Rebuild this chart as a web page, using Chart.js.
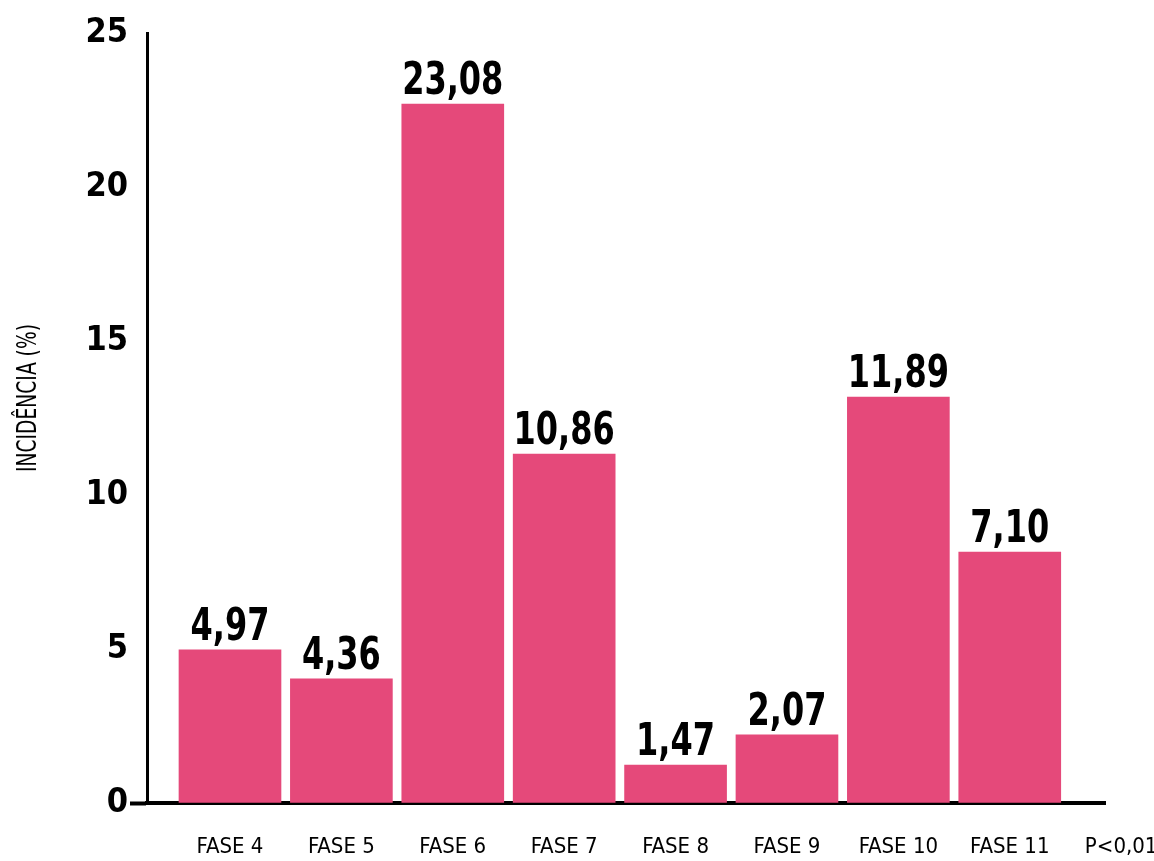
<!DOCTYPE html>
<html>
<head>
<meta charset="utf-8">
<script src="https://cdn.jsdelivr.net/npm/chart.js@4.4.1/dist/chart.umd.min.js"></script>
<style>
  html, body { margin: 0; padding: 0; background: #fff; }
  #wrap { width: 1154px; height: 861px; position: relative; }
</style>
</head>
<body>
<div id="wrap"><canvas id="c"></canvas></div>
<script>
// ---- data ----
const categories = ['FASE 4', 'FASE 5', 'FASE 6', 'FASE 7', 'FASE 8', 'FASE 9', 'FASE 10', 'FASE 11'];
const extraTickLabel = 'P<0,01';
const barHeights = [4.97, 4.03, 22.69, 11.33, 1.23, 2.21, 13.18, 8.15];
const valueLabels = ['4,97', '4,36', '23,08', '10,86', '1,47', '2,07', '11,89', '7,10'];
const yTicks = [0, 5, 10, 15, 20, 25];
const yTitle = 'INCIDÊNCIA (%)';

const tickLabels = categories.concat([extraTickLabel]);
const FONT = "'DejaVu Sans Condensed', 'Liberation Sans Narrow', 'DejaVu Sans', sans-serif";
const PINK = '#E5497A';

const valueLabelPlugin = {
  id: 'valueLabels',
  afterDatasetsDraw(chart) {
    const ctx = chart.ctx;
    const meta = chart.getDatasetMeta(0);
    const sx = 0.79;
    ctx.save();
    ctx.fillStyle = '#000';
    ctx.font = 'bold 45px ' + FONT;
    ctx.textAlign = 'center';
    ctx.textBaseline = 'alphabetic';
    meta.data.forEach((bar, i) => {
      ctx.save();
      ctx.translate(bar.x, bar.y - 10);
      ctx.scale(sx, 1);
      ctx.fillText(valueLabels[i], 0, 0);
      ctx.restore();
    });
    ctx.restore();
  }
};

const yTitlePlugin = {
  id: 'yTitle',
  afterDraw(chart) {
    const ctx = chart.ctx;
    ctx.save();
    ctx.fillStyle = '#000';
    ctx.font = 'normal 27px ' + FONT;
    ctx.textAlign = 'center';
    ctx.textBaseline = 'middle';
    ctx.translate(29, 398);
    ctx.rotate(-Math.PI / 2);
    ctx.scale(0.77, 1);
    ctx.fillText(yTitle, 0, 0);
    ctx.restore();
  }
};

new Chart(document.getElementById('c'), {
  type: 'bar',
  data: {
    datasets: [{
      data: barHeights.map((v, i) => ({ x: i, y: v })),
      backgroundColor: PINK,
      borderWidth: 0,
      barThickness: 102
    }]
  },
  options: {
    responsive: true,
    maintainAspectRatio: false,
    animation: false,
    layout: { padding: { top: 33, right: 49, left: 0, bottom: 0 } },
    plugins: { legend: { display: false }, tooltip: { enabled: false } },
    scales: {
      x: {
        type: 'linear',
        bounds: 'data',
        offset: false,
        min: -0.745,
        max: 7.855,
        afterBuildTicks(scale) {
          scale.ticks = tickLabels.map((_, i) => ({ value: i }));
        },
        afterFit(scale) {
          scale.height = 58;
          scale.paddingLeft = 0;
          scale.paddingRight = 0;
        },
        grid: { display: false, drawTicks: false, offset: false },
        border: { display: true, color: '#000', width: 4 },
        ticks: {
          autoSkip: false,
          maxRotation: 0,
          color: '#000',
          padding: 31,
          font: { family: FONT, size: 22, weight: 'normal' },
          callback: (v) => tickLabels[v] !== undefined ? tickLabels[v] : ''
        }
      },
      y: {
        min: 0,
        max: 25,
        afterBuildTicks(scale) {
          scale.ticks = yTicks.map(v => ({ value: v }));
        },
        afterFit(scale) {
          scale.width = 147;
          scale.paddingTop = 0;
          scale.paddingBottom = 0;
        },
        grid: {
          drawOnChartArea: false,
          drawTicks: true,
          tickLength: 17,
          tickWidth: 4,
          tickColor: (c) => (c.tick && c.tick.value === 0) ? '#000' : 'rgba(0,0,0,0)'
        },
        border: { display: true, color: '#000', width: 3 },
        ticks: {
          color: '#000',
          padding: 2,
          font: { family: FONT, size: 34, weight: 'bold' }
        },
        title: { display: false }
      }
    }
  },
  plugins: [valueLabelPlugin, yTitlePlugin]
});
</script>
</body>
</html>
